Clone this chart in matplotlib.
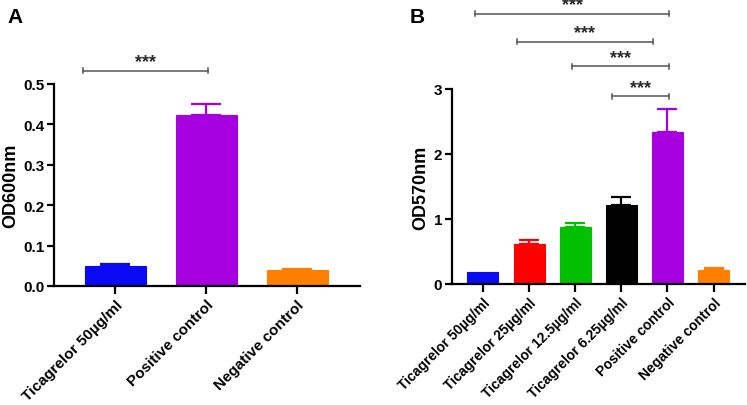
import matplotlib
matplotlib.use("Agg")
import matplotlib.pyplot as plt

plt.rcParams['font.family'] = ['Liberation Sans', 'DejaVu Sans']
plt.rcParams['font.weight'] = 'bold'

# ---- Panel A data ----
cats_a = ["Ticagrelor 50µg/ml", "Positive control", "Negative control"]
vals_a = [0.050, 0.423, 0.040]
errs_a = [0.005, 0.028, 0.003]
cols_a = ["#0A0AF5", "#A600E0", "#FF8000"]
yticks_a = [0.0, 0.1, 0.2, 0.3, 0.4, 0.5]
ytick_labels_a = ["0.0", "0.1", "0.2", "0.3", "0.4", "0.5"]
# significance brackets: (x_start, x_end, y, label)
sig_a = [(-0.36, 1.02, 0.533, "***")]

# ---- Panel B data ----
cats_b = ["Ticagrelor 50µg/ml", "Ticagrelor 25µg/ml", "Ticagrelor 12.5µg/ml",
          "Ticagrelor 6.25µg/ml", "Positive control", "Negative control"]
vals_b = [0.19, 0.62, 0.88, 1.21, 2.34, 0.21]
errs_b = [0.0, 0.05, 0.055, 0.13, 0.35, 0.03]
cols_b = ["#0A0AF5", "#FF0000", "#00C000", "#000000", "#A600E0", "#FF8000"]
yticks_b = [0, 1, 2, 3]
ytick_labels_b = ["0", "1", "2", "3"]
sig_b = [(-0.17, 4.04, 4.16, "***"),
         (0.73, 3.68, 3.73, "***"),
         (1.93, 4.04, 3.35, "***"),
         (2.80, 4.04, 2.89, "***")]

fig = plt.figure(figsize=(7.47, 4.06), dpi=100)
axA = fig.add_axes([54/747, 1-287/406, 306/747, (287-85)/406])
axB = fig.add_axes([452/747, 1-285/406, 293/747, (285-90)/406])


def draw(ax, cats, vals, errs, cols, yt, ytl, ylim, xlim, ylabel, sig, ppu, cap,
         xfs):
    x = list(range(len(cats)))
    ax.bar(x, vals, width=0.67, color=cols, edgecolor=cols, linewidth=0.8, zorder=2)
    for xi, v, e, c in zip(x, vals, errs, cols):
        if e > 0:
            ax.errorbar(xi, v, yerr=[[0], [e]], fmt='none', ecolor=c,
                        elinewidth=1.6, capsize=cap, capthick=1.6, zorder=3)
    ax.set_xlim(*xlim)
    ax.set_ylim(*ylim)
    ax.set_yticks(yt)
    ax.set_yticklabels(ytl, fontsize=11, fontweight='bold')
    ax.set_xticks(x)
    ax.set_xticklabels(cats, rotation=45, ha='right', rotation_mode='anchor',
                       fontsize=xfs, fontweight='bold')
    ax.set_ylabel(ylabel, fontsize=13, fontweight='bold', labelpad=3)
    for s in ['top', 'right']:
        ax.spines[s].set_visible(False)
    for s in ['left', 'bottom']:
        ax.spines[s].set_linewidth(1.6)
    ax.tick_params(axis='x', length=6, width=1.6, pad=2)
    ax.tick_params(axis='y', length=5, width=1.6, pad=2)
    for x1, x2, y, lab in sig:
        ax.plot([x1, x2], [y, y], color='#555555', lw=1.1, clip_on=False, zorder=4)
        h = 2.5 / ppu
        for xe in (x1, x2):
            ax.plot([xe, xe], [y - h, y + h], color='#555555', lw=1.1,
                    clip_on=False, zorder=4)
        ax.text((x1 + x2) / 2, y + 0.5 / ppu, lab, ha='center', va='bottom',
                fontsize=13, fontweight='bold', color='#2a2a2a', clip_on=False)


draw(axA, cats_a, vals_a, errs_a, cols_a, yticks_a, ytick_labels_a, (0, 0.5),
     (-0.676, 2.69), "OD600nm", sig_a, 404.0, 11, 11)
draw(axB, cats_b, vals_b, errs_b, cols_b, yticks_b, ytick_labels_b, (0, 3),
     (-0.67, 5.68), "OD570nm", sig_b, 65.0, 7.5, 10)

fig.text(7/747, 1-23/406, "A", fontsize=15, fontweight='bold', va='baseline')
fig.text(410/747, 1-23/406, "B", fontsize=15, fontweight='bold', va='baseline')

fig.savefig("out.png", dpi=100)
